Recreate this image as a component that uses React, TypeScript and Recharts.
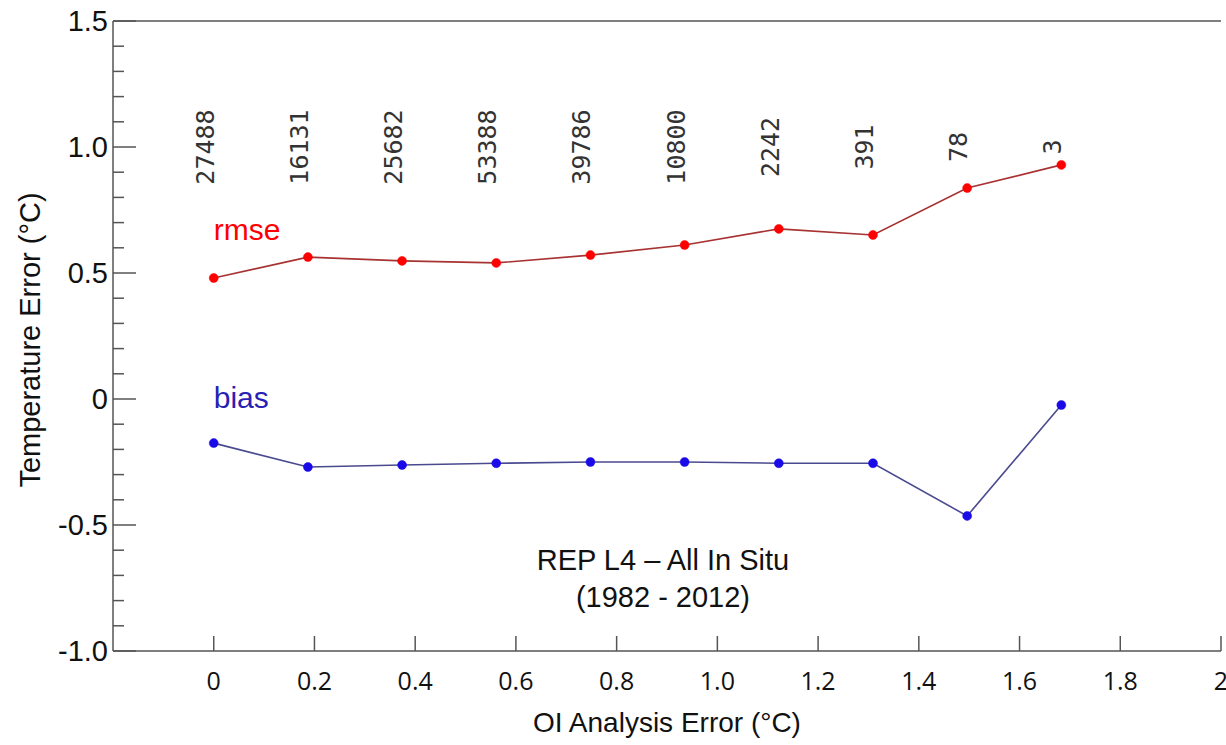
import React from 'react';
import { LineChart, Line, XAxis, YAxis, ReferenceLine, ReferenceDot } from 'recharts';

// OI analysis error bins (°C)
const xValues = [0, 0.187, 0.374, 0.561, 0.748, 0.935, 1.122, 1.309, 1.496, 1.683];
const rmseValues = [0.48, 0.563, 0.548, 0.54, 0.571, 0.611, 0.675, 0.651, 0.837, 0.929];
const biasValues = [-0.175, -0.27, -0.262, -0.255, -0.25, -0.25, -0.255, -0.255, -0.464, -0.024];
const counts = ['27488', '16131', '25682', '53388', '39786', '10800', '2242', '391', '78', '3'];

const xTicks = [0, 0.2, 0.4, 0.6, 0.8, 1.0, 1.2, 1.4, 1.6, 1.8, 2];
const xTickLabels = ['0', '0.2', '0.4', '0.6', '0.8', '1.0', '1.2', '1.4', '1.6', '1.8', '2'];
const yTicks = [-1.0, -0.9, -0.8, -0.7, -0.6, -0.5, -0.4, -0.3, -0.2, -0.1, 0, 0.1, 0.2, 0.3, 0.4, 0.5, 0.6, 0.7, 0.8, 0.9, 1.0, 1.1, 1.2, 1.3, 1.4, 1.5];
const yMajor = [-1.0, -0.5, 0, 0.5, 1.0, 1.5];
const yMajorLabels = ['-1.0', '-0.5', '0', '0.5', '1.0', '1.5'];

const data = xValues.map((x, i) => ({ x, rmse: rmseValues[i], bias: biasValues[i] }));

const AXIS = '#555';
const SANS = '"Liberation Sans", Arial, sans-serif';

function majorIndex(v: number) {
  return yMajor.findIndex((m) => Math.abs(m - v) < 1e-6);
}

function LeftTick(props: any) {
  const { x, y, payload } = props;
  const idx = majorIndex(payload.value);
  const len = idx >= 0 ? 23 : 11;
  return (
    <g>
      <line x1={x} x2={x + len} y1={y} y2={y} stroke={AXIS} strokeWidth={1.5} />
      {idx >= 0 && (
        <text x={x - 5} y={y} textAnchor="end" dominantBaseline="central" fontFamily={SANS} fontSize={29} fill="#111">
          {yMajorLabels[idx]}
        </text>
      )}
    </g>
  );
}

function RightTick(props: any) {
  const { x, y, payload } = props;
  const len = majorIndex(payload.value) >= 0 ? 23 : 11;
  return <line x1={x} x2={x - len} y1={y} y2={y} stroke={AXIS} strokeWidth={1.5} />;
}

function BottomTick(props: any) {
  const { x, y, payload } = props;
  const idx = xTicks.findIndex((t) => Math.abs(t - payload.value) < 1e-6);
  return (
    <g>
      <line x1={x} x2={x} y1={y} y2={y - 15} stroke={AXIS} strokeWidth={1.5} />
      <text x={x} y={y + 29} textAnchor="middle" dominantBaseline="central" fontFamily='"Open Sans", sans-serif' fontSize={25} fill="#111">
        {xTickLabels[idx]}
      </text>
    </g>
  );
}

function center(vb: any) {
  return { cx: vb.x + (vb.width || 0) / 2, cy: vb.y + (vb.height || 0) / 2 };
}

const countLabel = (text: string) => (props: any) => {
  if (!props.viewBox) return null;
  const { cx, cy } = center(props.viewBox);
  return (
    <text x={cx} y={cy} transform={`rotate(-90 ${cx} ${cy})`} textAnchor="middle" fontFamily='"DejaVu Sans Mono", monospace' fontSize={25} fill="#333">
      {text}
    </text>
  );
};

const seriesLabel = (text: string, color: string) => (props: any) => {
  if (!props.viewBox) return null;
  const { cx, cy } = center(props.viewBox);
  return (
    <text x={cx} y={cy} textAnchor="start" fontFamily={SANS} fontSize={30} fill={color}>
      {text}
    </text>
  );
};

const titleLabel = (props: any) => {
  if (!props.viewBox) return null;
  const { cx, cy } = center(props.viewBox);
  return (
    <text textAnchor="middle" fontFamily={SANS} fontSize={29} fill="#111">
      <tspan x={cx} y={cy}>REP L4 – All In Situ</tspan>
      <tspan x={cx} y={cy + 37}>(1982 - 2012)</tspan>
    </text>
  );
};

const yAxisLabel = (props: any) => {
  const vb = props.viewBox;
  if (!vb) return null;
  const x = vb.x + 30;
  const y = vb.y + vb.height / 2 + 4;
  return (
    <text x={x} y={y} transform={`rotate(-90 ${x} ${y})`} textAnchor="middle" dominantBaseline="central" fontFamily={SANS} fontSize={29} fill="#111">
      Temperature Error (°C)
    </text>
  );
};

const xAxisLabel = (props: any) => {
  const vb = props.viewBox;
  if (!vb) return null;
  return (
    <text x={vb.x + vb.width / 2} y={vb.y + 71} textAnchor="middle" dominantBaseline="central" fontFamily={SANS} fontSize={28} fill="#111">
      OI Analysis Error (°C)
    </text>
  );
};

export default function App() {
  return (
    <div style={{ position: 'absolute', left: 0, top: 0, background: '#fff' }}>
      <LineChart width={1226} height={745} data={data} margin={{ top: 21, right: 5, bottom: 0, left: 0 }}>
        <XAxis
          type="number"
          dataKey="x"
          domain={[-0.2, 2]}
          ticks={xTicks}
          allowDataOverflow
          tickSize={0}
          tickMargin={0}
          tickLine={false}
          tick={<BottomTick />}
          axisLine={{ stroke: AXIS, strokeWidth: 1.5 }}
          height={94}
          label={xAxisLabel}
        />
        <YAxis
          type="number"
          domain={[-1, 1.5]}
          ticks={yTicks}
          allowDataOverflow
          tickSize={0}
          tickMargin={0}
          tickLine={false}
          tick={<LeftTick />}
          axisLine={{ stroke: AXIS, strokeWidth: 1.5 }}
          width={113}
          interval={0}
          label={yAxisLabel}
        />
        <YAxis
          yAxisId="right"
          orientation="right"
          type="number"
          domain={[-1, 1.5]}
          ticks={yTicks}
          allowDataOverflow
          tickSize={0}
          tickMargin={0}
          tickLine={false}
          tick={<RightTick />}
          axisLine={{ stroke: AXIS, strokeWidth: 1.5 }}
          width={0}
          interval={0}
        />
        <ReferenceLine y={1.5} stroke={AXIS} strokeWidth={1.5} />

        {counts.map((c, i) => (
          <ReferenceDot key={c} x={xValues[i]} y={1.0} r={0} stroke="none" fill="none" label={countLabel(c)} />
        ))}
        <ReferenceDot x={0} y={0.631} r={0} stroke="none" fill="none" label={seriesLabel('rmse', '#ff0000')} />
        <ReferenceDot x={0} y={-0.036} r={0} stroke="none" fill="none" label={seriesLabel('bias', '#2a1fb5')} />
        <ReferenceDot x={0.892} y={-0.679} r={0} stroke="none" fill="none" label={titleLabel} />

        <Line
          type="linear"
          dataKey="rmse"
          stroke="#a83232"
          strokeWidth={1.6}
          dot={{ r: 4.5, fill: '#ff0000', stroke: '#ff0000', strokeWidth: 0.5 }}
          activeDot={false}
          isAnimationActive={false}
        />
        <Line
          type="linear"
          dataKey="bias"
          stroke="#4a4a90"
          strokeWidth={1.6}
          dot={{ r: 4.5, fill: '#1a0ae8', stroke: '#1a0ae8', strokeWidth: 0.5 }}
          activeDot={false}
          isAnimationActive={false}
        />
      </LineChart>
    </div>
  );
}
